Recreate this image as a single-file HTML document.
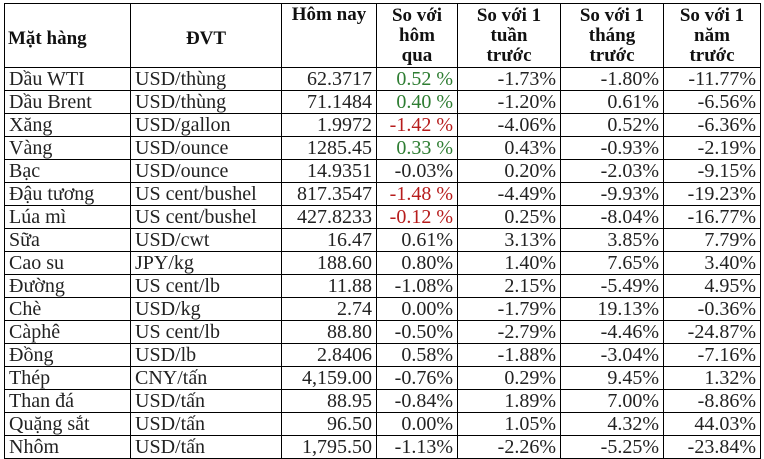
<!DOCTYPE html>
<html><head><meta charset="utf-8"><style>
html,body{margin:0;padding:0;background:#fff;width:764px;height:459px;overflow:hidden}
table{position:absolute;left:4px;top:3px;border-collapse:collapse;table-layout:fixed;font-family:"Liberation Serif","Times New Roman",serif;font-size:20px;color:#222}
td,th{border:1px solid #000;padding:0 4px;height:22px;line-height:20px;white-space:nowrap;overflow:hidden;box-sizing:border-box}
td{height:23px}
th{font-weight:bold;font-size:19px;height:64px;line-height:20px;color:#111;padding:0 3px}
td.n{text-align:right}
.g{color:#2e7d32}.r{color:#b71c1c}
</style></head><body>
<table>
<colgroup><col style="width:126px"><col style="width:151px"><col style="width:95px"><col style="width:81px"><col style="width:103px"><col style="width:103px"><col style="width:97px"></colgroup>
<tr>
<th style="text-align:left;vertical-align:middle;padding-top:6px">Mặt hàng</th>
<th style="vertical-align:middle;padding-top:6px">ĐVT</th>
<th style="vertical-align:top;padding-top:1px">Hôm nay</th>
<th>So với<br>hôm<br>qua</th>
<th>So với 1<br>tuần<br>trước</th>
<th>So với 1<br>tháng<br>trước</th>
<th>So với 1<br>năm<br>trước</th>
</tr>
<tbody id="tb"></tbody>
</table>
<script>
const rows=[
["Dầu WTI","USD/thùng","62.3717","0.52 %","-1.73%","-1.80%","-11.77%","g"],
["Dầu Brent","USD/thùng","71.1484","0.40 %","-1.20%","0.61%","-6.56%","g"],
["Xăng","USD/gallon","1.9972","-1.42 %","-4.06%","0.52%","-6.36%","r"],
["Vàng","USD/ounce","1285.45","0.33 %","0.43%","-0.93%","-2.19%","g"],
["Bạc","USD/ounce","14.9351","-0.03%","0.20%","-2.03%","-9.15%",""],
["Đậu tương","US cent/bushel","817.3547","-1.48 %","-4.49%","-9.93%","-19.23%","r"],
["Lúa mì","US cent/bushel","427.8233","-0.12 %","0.25%","-8.04%","-16.77%","r"],
["Sữa","USD/cwt","16.47","0.61%","3.13%","3.85%","7.79%",""],
["Cao su","JPY/kg","188.60","0.80%","1.40%","7.65%","3.40%",""],
["Đường","US cent/lb","11.88","-1.08%","2.15%","-5.49%","4.95%",""],
["Chè","USD/kg","2.74","0.00%","-1.79%","19.13%","-0.36%",""],
["Càphê","US cent/lb","88.80","-0.50%","-2.79%","-4.46%","-24.87%",""],
["Đồng","USD/lb","2.8406","0.58%","-1.88%","-3.04%","-7.16%",""],
["Thép","CNY/tấn","4,159.00","-0.76%","0.29%","9.45%","1.32%",""],
["Than đá","USD/tấn","88.95","-0.84%","1.89%","7.00%","-8.86%",""],
["Quặng sắt","USD/tấn","96.50","0.00%","1.05%","4.32%","44.03%",""],
["Nhôm","USD/tấn","1,795.50","-1.13%","-2.26%","-5.25%","-23.84%",""]];
const tb=document.getElementById('tb');
rows.forEach(r=>{
 const tr=document.createElement('tr');
 
 
 for(let i=0;i<7;i++){
  const td=document.createElement('td');
  td.textContent=r[i];
  if(i>=2)td.className='n';
  if(i==3&&r[7])td.className='n '+r[7];
  
  
  tr.appendChild(td);
 }
 tb.appendChild(tr);
});
</script>
</body></html>
